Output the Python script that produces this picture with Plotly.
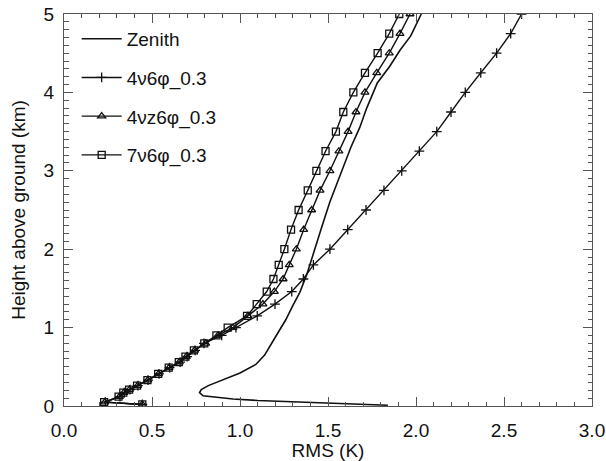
import plotly.graph_objects as go

# Heights (km) of retrieval levels
heights = [0.02, 0.05, 0.12, 0.17, 0.21, 0.26, 0.33, 0.41, 0.49, 0.56, 0.63, 0.71,
           0.80, 0.90, 1.00, 1.15, 1.30, 1.46, 1.62, 1.80, 2.00, 2.25, 2.50, 2.75,
           3.00, 3.25, 3.50, 3.75, 4.00, 4.25, 4.50, 4.75, 5.00]

# RMS (K) for each configuration
rms_4v6 = [0.445, 0.235, 0.318, 0.343, 0.375, 0.42, 0.478, 0.54, 0.60, 0.66, 0.70, 0.745,
           0.795, 0.896, 0.977, 1.098, 1.199, 1.294, 1.36, 1.417, 1.511, 1.612, 1.716, 1.818,
           1.919, 2.019, 2.118, 2.199, 2.28, 2.368, 2.458, 2.538, 2.60]
rms_4vz6 = [0.445, 0.232, 0.315, 0.34, 0.372, 0.418, 0.476, 0.537, 0.597, 0.655, 0.695, 0.742,
            0.805, 0.875, 0.96, 1.045, 1.13, 1.195, 1.245, 1.28, 1.32, 1.362, 1.407, 1.455,
            1.511, 1.562, 1.614, 1.659, 1.71, 1.777, 1.848, 1.909, 1.966]
rms_7v6 = [0.445, 0.228, 0.31, 0.337, 0.37, 0.415, 0.474, 0.535, 0.595, 0.652, 0.69, 0.738,
           0.797, 0.866, 0.93, 1.04, 1.095, 1.152, 1.19, 1.22, 1.252, 1.29, 1.333, 1.385,
           1.434, 1.486, 1.545, 1.587, 1.644, 1.71, 1.782, 1.848, 1.905]

# Zenith-only retrieval (continuous curve)
zen_h = [0.01, 0.03, 0.05, 0.07, 0.09, 0.11, 0.13, 0.17, 0.21, 0.26, 0.33, 0.42, 0.53,
         0.65, 0.80, 0.95, 1.10, 1.28, 1.45, 1.68, 1.95, 2.25, 2.60, 2.95, 3.30, 3.55,
         3.80, 4.12, 4.33, 4.54, 4.72, 5.00]
zen_rms = [1.84, 1.55, 1.34, 1.10, 0.96, 0.85, 0.79, 0.77, 0.78, 0.82, 0.90, 1.00, 1.09,
           1.14, 1.18, 1.22, 1.26, 1.30, 1.34, 1.38, 1.42, 1.46, 1.51, 1.57, 1.63, 1.68,
           1.72, 1.78, 1.85, 1.91, 1.97, 2.03]

font_family = "Liberation Sans, Arial, Helvetica, sans-serif"
black = "#111111"

fig = go.Figure()
fig.add_trace(go.Scatter(x=zen_rms, y=zen_h, mode="lines", name="Zenith",
                         legendgroup="a", line=dict(color=black, width=1.6)))
fig.add_trace(go.Scatter(x=rms_4v6, y=heights, mode="lines+markers", name="4ν6φ_0.3",
                         legendgroup="b", line=dict(color=black, width=1.4),
                         marker=dict(symbol="cross-thin-open", size=7,
                                     line=dict(color=black, width=1.3))))
fig.add_trace(go.Scatter(x=rms_4vz6, y=heights, mode="lines+markers", name="4νz6φ_0.3",
                         legendgroup="c", line=dict(color=black, width=1.4),
                         marker=dict(symbol="triangle-up-open", size=7, color=black,
                                     line=dict(color=black, width=1.3))))
fig.add_trace(go.Scatter(x=rms_7v6, y=heights, mode="lines+markers", name="7ν6φ_0.3",
                         legendgroup="d", line=dict(color=black, width=1.4),
                         marker=dict(symbol="square-open", size=7, color=black,
                                     line=dict(color=black, width=1.3))))

axis_common = dict(
    showline=True, linecolor="#555555", linewidth=1, mirror="allticks",
    ticks="inside", ticklen=9, tickcolor="#555555", tickwidth=1,
    showgrid=False, zeroline=False,
    tickfont=dict(family=font_family, size=19, color=black),
)

fig.update_xaxes(range=[0, 3], dtick=0.5, tick0=0, tickformat=".1f",
                 minor=dict(ticks="inside", ticklen=4, dtick=0.1, tickcolor="#555555"),
                 title=dict(text="RMS (K)", font=dict(family=font_family, size=19, color=black),
                            standoff=2),
                 ticklabelstandoff=7, **axis_common)
fig.update_yaxes(range=[0, 5], dtick=1, tick0=0,
                 minor=dict(ticks="inside", ticklen=4.5, dtick=0.1, tickcolor="#555555"),
                 title=dict(text="Height above ground (km)",
                            font=dict(family=font_family, size=19, color=black), standoff=12),
                 ticklabelstandoff=5, **axis_common)

fig.update_layout(
    width=606, height=461,
    margin=dict(l=64, r=14, t=14, b=55, autoexpand=False),
    plot_bgcolor="white", paper_bgcolor="white",
    font=dict(family=font_family, size=19, color=black),
    showlegend=True,
    legend=dict(x=0.024, y=0.985, xanchor="left", yanchor="top",
                bgcolor="rgba(0,0,0,0)", borderwidth=0,
                font=dict(family=font_family, size=19, color=black),
                traceorder="grouped", tracegroupgap=11, itemwidth=40),
)

fig.write_html("out.html", config={"displayModeBar": False},
               post_script="document.body.style.margin='0';document.body.style.padding='0';")
